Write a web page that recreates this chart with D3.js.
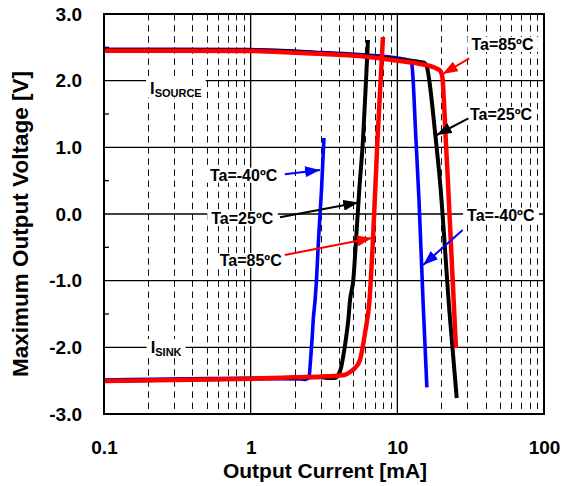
<!DOCTYPE html>
<html>
<head>
<meta charset="utf-8">
<script src="https://cdn.jsdelivr.net/npm/d3@7"></script>
<style>
	body { margin: 0; background: #fff; }
	text { font-family: "Liberation Sans", Arial, sans-serif; font-weight: bold; }
</style>
</head>
<body>
<div id="chart"></div>
<script>
// tick values
var xTicks = [0.1, 1, 10, 100];
var yTicks = [-3, -2, -1, 0, 1, 2, 3];

// [output current mA, output voltage V], source side (output high)
var srcM40 = [[0.1,2.47],[0.3,2.47],[1,2.465],[2,2.445],[3.1,2.42],[5.5,2.39],[10,2.34],[12.2,2.30],[12.4,2.28],[12.6,2.22],[13.4,1.11],[14.05,0.21],[14.96,-1.29],[15.9,-2.6]];
var src25 = [[0.1,2.46],[1,2.455],[2,2.435],[3.1,2.41],[5.5,2.38],[10,2.32],[14.3,2.28],[15.2,2.27],[15.9,2.21],[16.4,2.05],[18.1,1.215],[19.5,0.51],[22.7,-1.485],[25.4,-2.76]];
var src85 = [[0.1,2.45],[0.3,2.45],[1,2.445],[2,2.42],[3.1,2.40],[5.5,2.37],[10,2.30],[14.3,2.25],[18.6,2.18],[19.6,2.15],[20.3,2.05],[20.6,1.85],[21.4,1.11],[22.1,0.51],[25.1,-2.01]];

// sink side (output low)
var sinkM40 = [[0.1,-2.49],[1,-2.465],[2.17,-2.475],[2.38,-2.48],[2.5,-2.445],[2.56,-2.19],[2.62,-1.89],[2.67,-1.59],[2.75,-1.29],[2.81,-0.99],[2.9,-0.39],[3.04,0.36],[3.16,1.14]];
var sink25 = [[0.1,-2.5],[1,-2.47],[2,-2.455],[3,-2.45],[3.5,-2.46],[3.8,-2.455],[3.94,-2.42],[4.13,-2.31],[4.28,-2.13],[4.47,-1.86],[4.63,-1.59],[4.76,-1.29],[5.01,-0.99],[5.23,-0.39],[5.5,0.36],[5.83,1.11],[6.07,1.86],[6.31,2.61]];
var sink85 = [[0.1,-2.505],[0.3,-2.49],[1,-2.47],[2,-2.45],[3.3,-2.435],[4.4,-2.41],[4.76,-2.37],[5.14,-2.31],[5.56,-2.19],[6.02,-1.785],[6.46,-1.29],[6.82,-0.39],[7.32,1.11],[7.98,2.655]];

// annotations: label, temperature key, text anchor point, arrow start, arrow tip (data units)
var annoText = ["Ta=85ºC", "Ta=25ºC", "Ta=-40ºC", "Ta=25ºC", "Ta=85ºC", "Ta=-40ºC"];
var annoTemp = ["85", "25", "m40", "25", "85", "m40"];
var annoAt = [[32.0,2.46],[31.3,1.41],[1.519,0.50],[1.427,-0.15],[1.628,-0.78],[29.9,-0.10]];
var annoFrom = [[30.95,2.335],[30.5,1.436],[1.71,0.596],[1.585,-0.05],[1.71,-0.615],[27.9,-0.24]];
var annoTip = [[20.4,2.10],[18.55,1.185],[2.97,0.66],[5.42,0.173],[6.72,-0.36],[15.0,-0.765]];

var width = 563,
	height = 486,
	margins = {"top": 14, "bottom": 72, "left": 104, "right": 19},
	colors = {"m40": "#0000ff", "25": "#000000", "85": "#ff0000"};

var svg = d3.select("#chart")
	.append("svg")
	.attr("width", width)
	.attr("height", height)

var xScale = d3.scaleLog()
	.domain([0.1, 100])
	.range([margins.left, width - margins.right])

var yScale = d3.scaleLinear()
	.domain([-3, 3])
	.range([height - margins.bottom, margins.top])

var pTop = yScale(3), pBottom = yScale(-3), pLeft = xScale(0.1), pRight = xScale(100);

// minor dashed verticals
var minor = xScale.ticks().filter(function(d) { return xTicks.indexOf(d) < 0; });
svg.append("g").selectAll("line")
	.data(minor)
	.enter().append("line")
	.attr("x1", function(d) { return Math.round(xScale(d)) + 0.5; })
	.attr("x2", function(d) { return Math.round(xScale(d)) + 0.5; })
	.attr("y1", pTop).attr("y2", pBottom)
	.style("stroke", "#111")
	.style("stroke-width", 1)
	.style("stroke-dasharray", "6.5,4.6")

// decade lines
svg.append("g").selectAll("line")
	.data([1, 10])
	.enter().append("line")
	.attr("x1", function(d) { return xScale(d); })
	.attr("x2", function(d) { return xScale(d); })
	.attr("y1", pTop).attr("y2", pBottom)
	.style("stroke", "#000")
	.style("stroke-width", 1.3)

// horizontal grid
svg.append("g").selectAll("line")
	.data(yTicks.slice(1, -1))
	.enter().append("line")
	.attr("x1", pLeft).attr("x2", pRight)
	.attr("y1", function(d) { return yScale(d); })
	.attr("y2", function(d) { return yScale(d); })
	.style("stroke", "#000")
	.style("stroke-width", 1.3)

// half step ticks on left axis
svg.append("g").selectAll("line")
	.data(d3.range(-2.5, 3, 1))
	.enter().append("line")
	.attr("x1", pLeft).attr("x2", pLeft + 5)
	.attr("y1", function(d) { return yScale(d); })
	.attr("y2", function(d) { return yScale(d); })
	.style("stroke", "#000")
	.style("stroke-width", 1.3)

// labels with white boxes (ISOURCE / ISINK and the Ta= notes)
var labels = svg.append("g");

function subLabel(at, main, sub) {
	var t = labels.append("text")
		.attr("x", xScale(at[0]))
		.attr("y", yScale(at[1]))
		.style("font-size", "16.5px")
	t.append("tspan").text(main);
	t.append("tspan").attr("dy", 2.5).style("font-size", "11px").text(sub);
	return t;
}
var iSrc = subLabel([0.206, 1.80], "I", "SOURCE"),
	iSink = subLabel([0.208, -2.085], "I", "SINK");

var notes = labels.selectAll("text.note")
	.data(annoText)
	.enter().append("text")
	.attr("class", "note")
	.attr("x", function(d, i) { return xScale(annoAt[i][0]); })
	.attr("y", function(d, i) { return yScale(annoAt[i][1]); })
	.style("text-anchor", function(d, i) { return annoAt[i][0] < 10 ? "end" : "start"; })
	.style("font-size", "16px")
	.text(function(d) { return d; })

labels.selectAll("text").each(function() {
	var b = this.getBBox();
	labels.insert("rect", "text")
		.attr("x", b.x - 4).attr("y", b.y + 1)
		.attr("width", b.width + 8).attr("height", b.height - 2)
		.style("fill", "#fff")
});

// curves
var line = d3.line()
	.x(function(d) { return xScale(d[0]); })
	.y(function(d) { return yScale(d[1]); })
	.curve(d3.curveMonotoneX)

var series = [
	{"key": "m40", "data": srcM40, "w": 3.6},
	{"key": "m40", "data": sinkM40, "w": 3.6},
	{"key": "25", "data": src25, "w": 4},
	{"key": "25", "data": sink25, "w": 4},
	{"key": "85", "data": src85, "w": 4.5},
	{"key": "85", "data": sink85, "w": 4.5}
];

svg.append("g").selectAll("path")
	.data(series)
	.enter().append("path")
	.attr("d", function(d) { return line(d.data); })
	.style("fill", "none")
	.style("stroke", function(d) { return colors[d.key]; })
	.style("stroke-width", function(d) { return d.w; })
	.style("stroke-linejoin", "round")

// arrows
var defs = svg.append("defs");
Object.keys(colors).forEach(function(k) {
	defs.append("marker")
		.attr("id", "head" + k)
		.attr("markerUnits", "userSpaceOnUse")
		.attr("markerWidth", 15).attr("markerHeight", 11)
		.attr("refX", 15).attr("refY", 5.5)
		.attr("orient", "auto")
		.append("path")
		.attr("d", "M0,0L15,5.5L0,11Z")
		.style("fill", colors[k])
});

svg.append("g").selectAll("line")
	.data(annoTemp)
	.enter().append("line")
	.attr("x1", function(d, i) { return xScale(annoFrom[i][0]); })
	.attr("y1", function(d, i) { return yScale(annoFrom[i][1]); })
	.attr("x2", function(d, i) { return xScale(annoTip[i][0]); })
	.attr("y2", function(d, i) { return yScale(annoTip[i][1]); })
	.style("stroke", function(d) { return colors[d]; })
	.style("stroke-width", 2)
	.attr("marker-end", function(d) { return "url(#head" + d + ")"; })

// frame
svg.append("rect")
	.attr("x", pLeft).attr("y", pTop)
	.attr("width", pRight - pLeft).attr("height", pBottom - pTop)
	.style("fill", "none")
	.style("stroke", "#000")
	.style("stroke-width", 2)

// axes
var yAxis = d3.axisLeft(yScale)
	.tickValues(yTicks)
	.tickSize(0)
	.tickPadding(22)
	.tickFormat(function(d) { return d.toFixed(1); })

var yG = svg.append("g")
	.attr("transform", "translate(" + pLeft + ",0)")
	.call(yAxis)
yG.select(".domain").remove();
yG.selectAll("text").style("font-size", "19px").attr("fill", "#000");

var xAxis = d3.axisBottom(xScale)
	.tickValues(xTicks)
	.tickSize(0)
	.tickPadding(27)
	.tickFormat(function(d) { return String(d); })

var xG = svg.append("g")
	.attr("transform", "translate(0," + pBottom + ")")
	.call(xAxis)
xG.select(".domain").remove();
xG.selectAll("text").style("font-size", "19px").attr("fill", "#000");

svg.append("text")
	.attr("x", (pLeft + pRight) / 2 + 1)
	.attr("y", 478)
	.style("text-anchor", "middle")
	.style("font-size", "21px")
	.text("Output Current [mA]")

svg.append("text")
	.attr("transform", "translate(27.5," + ((pTop + pBottom) / 2 + 10) + ") rotate(-90)")
	.style("text-anchor", "middle")
	.style("font-size", "22.5px")
	.text("Maximum Output Voltage [V]")
</script>
</body>
</html>
